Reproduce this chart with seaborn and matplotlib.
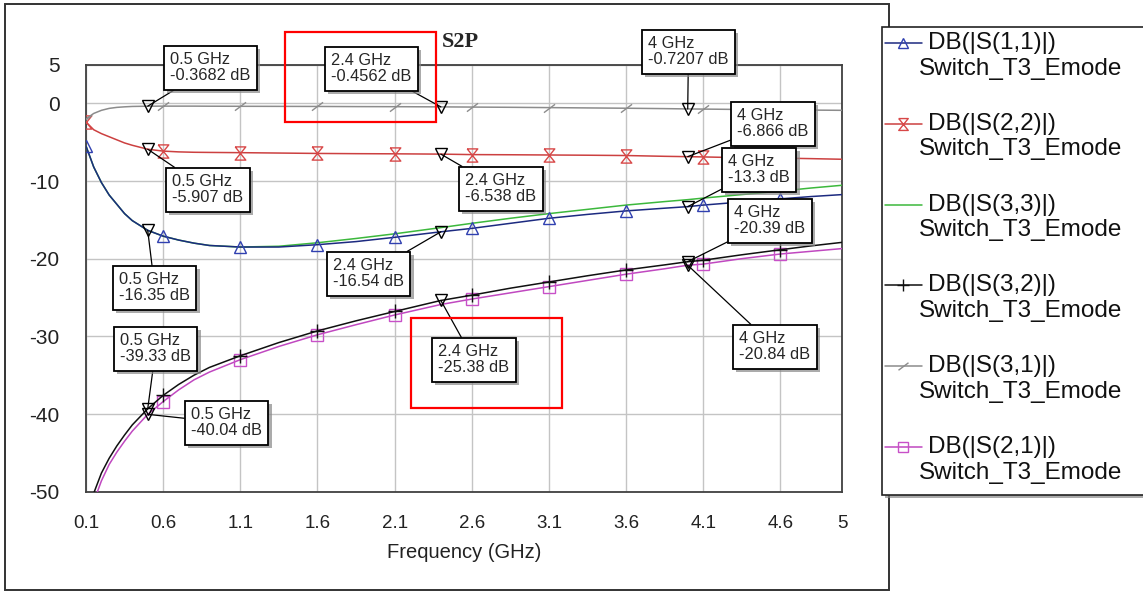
import numpy as np
import matplotlib.pyplot as plt
import matplotlib.patheffects as pe
from matplotlib.patches import Rectangle
from matplotlib.lines import Line2D
import seaborn as sns

# frequency sweep (GHz) and traces (dB)
freq = [0.1, 0.15, 0.2, 0.25, 0.3, 0.35, 0.4, 0.5, 0.6, 0.7, 0.8, 0.9, 1.1,
        1.35, 1.6, 1.85, 2.1, 2.4, 2.6, 2.85, 3.1, 3.35, 3.6, 3.85, 4.0, 4.1,
        4.35, 4.6, 4.8, 5.0]

s11 = [-5.5, -8.2, -10.2, -11.8, -13.0, -14.2, -15.1, -16.35, -17.1, -17.6,
       -18.0, -18.3, -18.5, -18.5, -18.2, -17.8, -17.25, -16.54, -16.1, -15.45,
       -14.8, -14.3, -13.85, -13.5, -13.3, -13.1, -12.7, -12.3, -12.0, -11.75]
s22 = [-2.4, -3.4, -3.9, -4.3, -4.7, -5.1, -5.4, -5.907, -6.15, -6.25,
       -6.3, -6.32, -6.35, -6.4, -6.45, -6.48, -6.5, -6.538, -6.6, -6.62,
       -6.65, -6.68, -6.72, -6.82, -6.866, -6.9, -7.0, -7.05, -7.12, -7.2]
s33 = [-5.5, -8.2, -10.2, -11.8, -13.0, -14.2, -15.1, -16.35, -17.1, -17.6,
       -18.0, -18.3, -18.5, -18.4, -17.95, -17.4, -16.8, -16.0, -15.45, -14.8,
       -14.2, -13.65, -13.1, -12.65, -12.4, -12.2, -11.75, -11.3, -10.9, -10.55]
s32 = [-53.5, -50.2, -47.6, -45.7, -44.1, -42.7, -41.4, -39.33, -37.6, -36.2,
       -35.0, -34.0, -32.5, -30.8, -29.3, -28.0, -26.8, -25.38, -24.7, -23.8,
       -23.0, -22.2, -21.45, -20.8, -20.39, -20.2, -19.5, -18.85, -18.35, -17.9]
s31 = [-2.0, -1.3, -0.9, -0.65, -0.52, -0.45, -0.4, -0.3682, -0.36, -0.36,
       -0.36, -0.37, -0.38, -0.39, -0.4, -0.42, -0.43, -0.4562, -0.48, -0.51,
       -0.55, -0.59, -0.63, -0.68, -0.7207, -0.74, -0.79, -0.83, -0.87, -0.9]
s21 = [-55.0, -51.3, -48.6, -46.5, -44.9, -43.5, -42.2, -40.04, -38.4, -36.9,
       -35.6, -34.6, -33.0, -31.3, -29.8, -28.5, -27.25, -25.9, -25.2, -24.4,
       -23.6, -22.8, -22.0, -21.3, -20.84, -20.7, -20.0, -19.4, -19.05, -18.7]

trace_names = ['DB(|S(1,1)|)', 'DB(|S(2,2)|)', 'DB(|S(3,3)|)',
               'DB(|S(3,2)|)', 'DB(|S(3,1)|)', 'DB(|S(2,1)|)']
schematic = 'Switch_T3_Emode'

marker_freq = [0.1, 0.6, 1.1, 1.6, 2.1, 2.6, 3.1, 3.6, 4.1, 4.6]
x_ticks = [0.1, 0.6, 1.1, 1.6, 2.1, 2.6, 3.1, 3.6, 4.1, 4.6, 5]
x_tick_labels = ['0.1', '0.6', '1.1', '1.6', '2.1', '2.6', '3.1', '3.6',
                 '4.1', '4.6', '5']
y_ticks = [5, 0, -10, -20, -30, -40, -50]

# marker readouts
readout_freq = [0.5, 0.5, 0.5, 0.5, 0.5, 2.4, 2.4, 2.4, 2.4,
                4.0, 4.0, 4.0, 4.0, 4.0]
readout_db = [-0.3682, -5.907, -16.35, -39.33, -40.04,
              -0.4562, -6.538, -16.54, -25.38,
              -0.7207, -6.866, -13.3, -20.39, -20.84]

# layout (pixels from the top-left corner of the image)
W, H = 1143, 592
box_corners = [(164, 46), (166, 168), (113, 266), (114, 327), (185, 401),
               (325, 47), (459, 167), (327, 252), (432, 338),
               (642, 30), (731, 102), (722, 148), (728, 199), (733, 325)]
highlight_boxes = [(285, 32, 436, 122), (411, 318, 562, 408)]

hourglass = [(-0.8, 1), (0.8, 1), (-0.8, -1), (0.8, -1), (-0.8, 1)]
slash = [(-1, -0.75), (1, 0.75)]

styles = [
    dict(color='#1c2a80', marker='^', mec='#3040b0', ms=8, z=3.6),
    dict(color='#cc4040', marker=hourglass, mec='#d84848', ms=9.5, z=3),
    dict(color='#3cb83c', marker=None, mec='#3cb83c', ms=0, z=3),
    dict(color='#101010', marker='+', mec='#101010', ms=10, z=3.4),
    dict(color='#8c8c8c', marker=slash, mec='#8c8c8c', ms=8, z=3),
    dict(color='#c048c0', marker='s', mec='#c850c8', ms=8.5, z=3),
]


def fx(px):
    return px / W


def fy(py):
    return 1 - py / H


sns.set_style('whitegrid')
plt.rcParams['font.family'] = ['Liberation Sans', 'DejaVu Sans']
plt.rcParams['axes.unicode_minus'] = False

fig = plt.figure(figsize=(W / 100, H / 100), dpi=100)
ax = fig.add_axes([fx(86), fy(491.7), fx(842) - fx(86), fy(64.5) - fy(491.7)])

mark_idx = [i for i, f in enumerate(freq) if np.any(np.isclose(f, marker_freq))]
traces = [s11, s22, s33, s32, s31, s21]
for vals, st in zip(traces, styles):
    kw = dict(color=st['color'], lw=1.1, zorder=st['z'])
    if st['marker'] is not None:
        kw.update(marker=st['marker'], markevery=mark_idx, ms=st['ms'],
                  mfc='none', mec=st['mec'], mew=1.0)
    sns.lineplot(x=freq, y=vals, ax=ax, **kw)

ax.set_xlim(0.1, 5)
ax.set_ylim(-50, 5)
ax.set_xticks(x_ticks, x_tick_labels)
ax.set_yticks(y_ticks, [str(v) for v in y_ticks])
ax.grid(True, color='#c4c4c4', lw=1)
ax.set_axisbelow(True)
for s in ax.spines.values():
    s.set_color('#404040')
    s.set_linewidth(1.3)
ax.tick_params(axis='x', length=0, pad=17, labelsize=13.5, labelcolor='#222222')
ax.tick_params(axis='y', length=0, pad=19, labelsize=15, labelcolor='#222222')
ax.set_xlabel('Frequency (GHz)', fontsize=14.5, labelpad=8, color='#222222')
ax.set_ylabel('')

# marker readouts with their boxes
ax.plot(readout_freq, readout_db, ls='none', marker='v', ms=9, mfc='none',
        mec='black', mew=1.0, zorder=6, clip_on=False)
fs = 11.8
pad = 0.38
pad_px = pad * fs * 100 / 72
for f, v, (bx, by) in zip(readout_freq, readout_db, box_corners):
    ann = ax.annotate(f'{f:g} GHz\n{v:.4g} dB', xy=(f, v),
                      xytext=(bx + pad_px, H - by - pad_px),
                      textcoords='figure pixels', ha='left', va='top',
                      fontsize=fs, linespacing=1.1, zorder=8,
                      bbox=dict(boxstyle=f'square,pad={pad}', fc='white',
                                ec='black', lw=1.3),
                      arrowprops=dict(arrowstyle='-', color='black', lw=0.9,
                                      shrinkA=0, shrinkB=0))
    ann.get_bbox_patch().set_path_effects([
        pe.SimplePatchShadow(offset=(2.5, -2.5), shadow_rgbFace='#888888',
                             alpha=0.7),
        pe.Normal()])

# title, outer frame, highlight boxes
fig.text(fx(442), fy(42), 'S2P', family=['Liberation Serif'], weight='bold',
         fontsize=16, va='center', ha='left')
fig.add_artist(Rectangle((fx(5), fy(590)), fx(889) - fx(5), fy(4) - fy(590),
                         transform=fig.transFigure, fill=False,
                         ec='#333333', lw=1.4, zorder=1))
for x0, y0, x1, y1 in highlight_boxes:
    fig.add_artist(Rectangle((fx(x0), fy(y1)), fx(x1) - fx(x0), fy(y0) - fy(y1),
                             transform=fig.transFigure, fill=False,
                             ec='#ff0000', lw=1.6, zorder=20))

# legend panel
leg_box = Rectangle((fx(882), fy(495)), fx(1160) - fx(882), fy(27) - fy(495),
                    transform=fig.transFigure, fc='white', ec='#222222',
                    lw=1.2, zorder=3)
leg_box.set_path_effects([
    pe.SimplePatchShadow(offset=(2.5, -2.5), shadow_rgbFace='#888888', alpha=0.7),
    pe.Normal()])
fig.add_artist(leg_box)
for i, (name, st) in enumerate(zip(trace_names, styles)):
    y1 = 43 + i * 80.8
    fig.add_artist(Line2D([fx(885), fx(922)], [fy(y1)] * 2, color=st['color'],
                          lw=1.1, transform=fig.transFigure, zorder=4))
    if st['marker'] is not None:
        fig.add_artist(Line2D([fx(903)], [fy(y1)], ls='none',
                              marker=st['marker'], ms=st['ms'] * 0.9,
                              mfc='none', mec=st['mec'], mew=1.0,
                              transform=fig.transFigure, zorder=4))
    fig.text(fx(928), fy(y1), name, fontsize=17.5, va='center', ha='left',
             color='#111111', zorder=5)
    fig.text(fx(919), fy(y1 + 25.5), schematic, fontsize=17.5, va='center',
             ha='left', color='#111111', zorder=5)

fig.savefig('out.png', dpi=100, facecolor='white')
